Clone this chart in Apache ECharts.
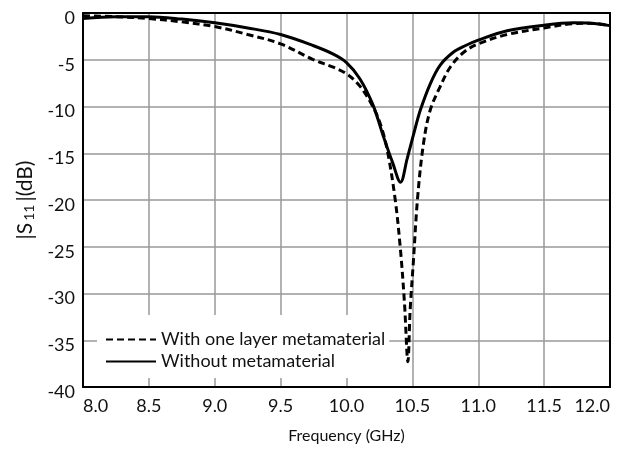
<!DOCTYPE html>
<html>
<head>
<meta charset="utf-8">
<script src="https://cdn.jsdelivr.net/npm/echarts@6/dist/echarts.min.js"></script>
<style>
  html, body { margin: 0; padding: 0; background: #fff; }
  #chart { width: 625px; height: 454px; }
</style>
</head>
<body>
<div id="chart"></div>
<script>
// Return loss |S11| of the antenna, with and without one metamaterial layer
const freqWithout = [8.0, 8.25, 8.5, 8.75, 9.0, 9.25, 9.5, 9.75, 9.9, 10.0, 10.1, 10.2, 10.28, 10.35, 10.41,
  10.46, 10.52, 10.56, 10.635, 10.71, 10.81, 10.9, 11.0, 11.22, 11.5, 11.72, 11.85, 12.0];
const s11Without = [-0.6, -0.4, -0.4, -0.65, -1.05, -1.6, -2.3, -3.5, -4.4, -5.3, -7.0, -9.8, -13.2, -16.0, -18.1,
  -15.6, -12.4, -10.4, -7.6, -5.6, -4.2, -3.5, -2.9, -1.9, -1.3, -1.05, -1.1, -1.35];

const freqWith = [8.0, 8.25, 8.5, 8.75, 9.0, 9.25, 9.5, 9.75, 9.9, 10.0, 10.1, 10.2, 10.26, 10.31, 10.37, 10.41,
  10.44, 10.466, 10.483, 10.508, 10.54, 10.584, 10.635, 10.71, 10.787, 10.89, 11.0, 11.22, 11.5, 11.72, 11.85, 12.0];
const s11With = [-0.3, -0.4, -0.6, -0.95, -1.45, -2.3, -3.3, -5.0, -5.8, -6.5, -7.8, -10.0, -12.0, -14.7, -20.0, -25.4,
  -31.0, -37.3, -31.8, -26.5, -19.7, -14.0, -10.4, -7.9, -5.8, -4.2, -3.3, -2.3, -1.6, -1.15, -1.1, -1.35];

const seriesNames = ['With one layer metamaterial', 'Without metamaterial'];
const xTicks = { min: 8, max: 12, step: 0.5 };
const yTicks = { min: -40, max: 0, step: 5 };

const FONT = 'Lato';
const pairs = (xs, ys) => xs.map((x, i) => [x, ys[i]]);

const chart = echarts.init(document.getElementById('chart'), null, { renderer: 'canvas' });

chart.setOption({
  backgroundColor: '#fff',
  animation: false,
  grid: { left: 83, right: 15, top: 13, bottom: 67 },
  legend: {
    orient: 'vertical',
    left: 97,
    top: 315,
    padding: [14, 4, 6, 8],
    itemGap: 1,
    itemWidth: 50,
    itemHeight: 14,
    backgroundColor: '#fff',
    data: seriesNames,
    itemStyle: { opacity: 0 },
    textStyle: { fontFamily: FONT, fontSize: 18, color: '#111', lineHeight: 21 }
  },
  xAxis: [{
    type: 'value',
    min: xTicks.min, max: xTicks.max, interval: xTicks.step,
    name: 'Frequency (GHz)',
    nameLocation: 'middle',
    nameGap: 41,
    nameTextStyle: { fontFamily: FONT, fontSize: 16, color: '#111' },
    axisLine: { show: true, onZero: false, lineStyle: { color: '#000', width: 2 } },
    axisTick: { show: false },
    axisLabel: {
      fontFamily: FONT, fontSize: 18, color: '#111', margin: 10,
      alignMinLabel: 'left', alignMaxLabel: 'right',
      formatter: v => v.toFixed(1)
    },
    splitLine: { show: true, lineStyle: { color: '#999', width: 1.5 } }
  }, {
    type: 'value', position: 'top',
    min: xTicks.min, max: xTicks.max, interval: xTicks.step,
    axisLine: { show: true, onZero: false, lineStyle: { color: '#000', width: 2 } },
    axisTick: { show: false }, axisLabel: { show: false }, splitLine: { show: false }
  }],
  yAxis: [{
    type: 'value',
    min: yTicks.min, max: yTicks.max, interval: yTicks.step,
    name: '|S{s|11}|(dB)',
    nameLocation: 'middle',
    nameGap: 46,
    nameTextStyle: {
      fontFamily: FONT, fontSize: 21, color: '#111',
      rich: { s: { fontFamily: FONT, fontSize: 14, color: '#111', padding: [9, 3, 0, 2] } }
    },
    axisLine: { show: true, onZero: false, lineStyle: { color: '#000', width: 2 } },
    axisTick: { show: false },
    axisLabel: { fontFamily: FONT, fontSize: 18, color: '#111', margin: 8, verticalAlign: 'top', lineHeight: 10 },
    splitLine: { show: true, lineStyle: { color: '#999', width: 1.5 } }
  }, {
    type: 'value', position: 'right',
    min: yTicks.min, max: yTicks.max, interval: yTicks.step,
    axisLine: { show: true, onZero: false, lineStyle: { color: '#000', width: 2 } },
    axisTick: { show: false }, axisLabel: { show: false }, splitLine: { show: false }
  }],
  series: [{
    name: seriesNames[0],
    type: 'line',
    data: pairs(freqWith, s11With),
    symbol: 'none',
    smooth: 0.35,
    lineStyle: { color: '#000', width: 3, type: [7, 4] },
    itemStyle: { color: '#000' },
    z: 3
  }, {
    name: seriesNames[1],
    type: 'line',
    data: pairs(freqWithout, s11Without),
    symbol: 'none',
    smooth: 0.35,
    lineStyle: { color: '#000', width: 3 },
    itemStyle: { color: '#000' },
    z: 4
  }]
});
</script>
</body>
</html>
